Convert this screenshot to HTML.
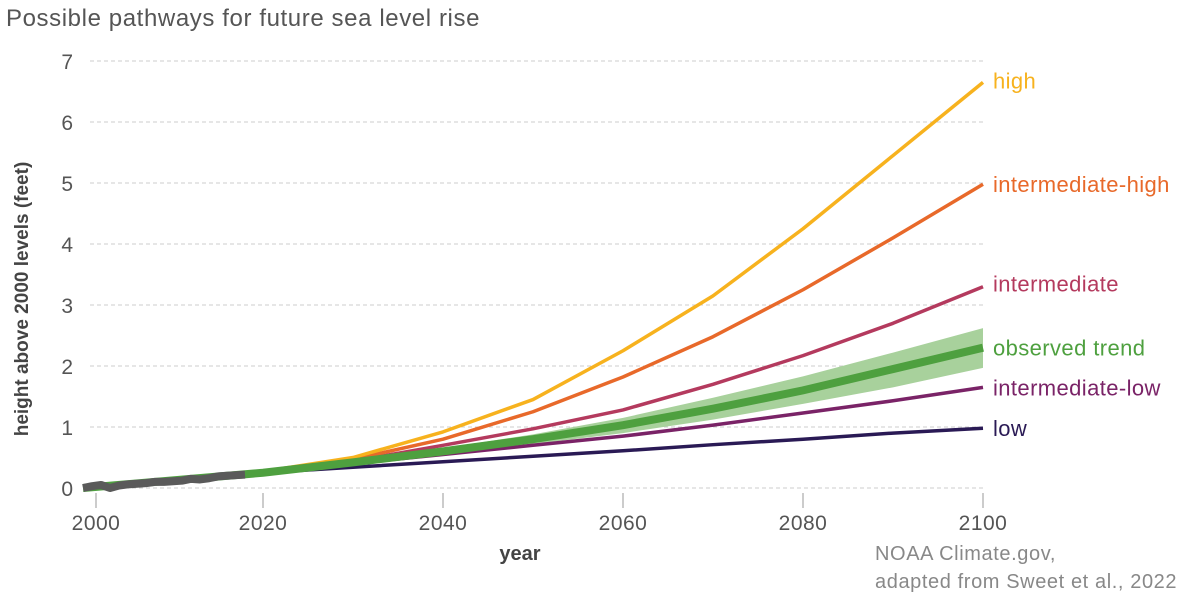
<!DOCTYPE html>
<html><head><meta charset="utf-8"><style>
body{margin:0;background:#fff;font-family:"Liberation Sans","DejaVu Sans",sans-serif}
svg text{font-family:"Liberation Sans","DejaVu Sans",sans-serif}
</style></head><body>
<svg id="c" width="1200" height="600">
<text x="6" y="26" font-size="24" fill="#555" letter-spacing="0.6">Possible pathways for future sea level rise</text>
<g id="grid"></g><g id="marks"></g><g id="labels"></g>
<text x="28" y="299" font-size="19" font-weight="bold" fill="#444" transform="rotate(-90 28 299)" text-anchor="middle">height above 2000 levels (feet)</text>
<text x="520" y="560" font-size="20" font-weight="bold" fill="#444" text-anchor="middle">year</text>
<text x="875" y="560" font-size="20" fill="#888" letter-spacing="0.6">NOAA Climate.gov,</text>
<text x="875" y="588" font-size="20" fill="#888" letter-spacing="0.6">adapted from Sweet et al., 2022</text>
</svg>
<script>
const years=[2020,2030,2040,2050,2060,2070,2080,2090,2100];
const high=[0.27,0.5,0.92,1.45,2.25,3.15,4.25,5.45,6.65];
const intHigh=[0.27,0.47,0.8,1.25,1.82,2.48,3.25,4.1,4.98];
const intermediate=[0.26,0.44,0.7,0.97,1.28,1.7,2.17,2.7,3.3];
const trend=[0.25,0.42,0.6,0.8,1.03,1.3,1.6,1.95,2.3];
const trendLow=[0.25,0.4,0.55,0.72,0.9,1.12,1.38,1.65,1.97];
const trendHigh=[0.25,0.44,0.65,0.88,1.15,1.48,1.83,2.22,2.62];
const intLow=[0.25,0.4,0.55,0.7,0.85,1.03,1.23,1.43,1.65];
const low=[0.25,0.34,0.43,0.52,0.61,0.71,0.8,0.9,0.98];
const obsYears=[2000,2001,2002,2003,2004,2005,2006,2007,2008,2009,2010,2011,2012,2013,2014,2015,2016,2017,2018];
const obs=[0,0.03,0.05,0,0.04,0.06,0.07,0.08,0.1,0.1,0.11,0.12,0.15,0.14,0.16,0.19,0.2,0.21,0.22];
const yTicks=[0,1,2,3,4,5,6,7];
const xTicks=[2000,2020,2040,2060,2080,2100];
const NS="http://www.w3.org/2000/svg";
const X=y=>263+(y-2020)*9.0, Y=v=>488-v*61;
function mk(t,a,p){const e=document.createElementNS(NS,t);for(const k in a)e.setAttribute(k,a[k]);document.getElementById(p).appendChild(e);return e;}
yTicks.forEach(t=>{
 const l=mk('line',{x1:90,x2:985,y1:Y(t),y2:Y(t),stroke:'#ccc','stroke-dasharray':'4,3'},'grid');
 
 
 const tx=mk('text',{x:73,y:Y(t)+8,'font-size':21,fill:'#555','text-anchor':'end'},'grid');tx.textContent=t;
 
 
});
xTicks.forEach(t=>{
 const x=t==2000?96:X(t);
 const l=mk('line',{x1:x,x2:x,y1:493,y2:508,stroke:'#999'},'grid');
 
 
 const tx=mk('text',{x:x,y:530,'font-size':21,fill:'#555','text-anchor':'middle','letter-spacing':'0.5'},'grid');tx.textContent=t;
 
 
});
const pts=(xs,vs)=>xs.map((y,i)=>X(y)+','+Y(vs[i])).join(' ');
const band=mk('polygon',{points:pts(years,trendHigh)+' '+pts(years.slice().reverse(),trendLow.slice().reverse()),fill:'#a8d19c'},'marks');


const series=[[low,'#2a1a55','low-line',3.5],[intLow,'#7a2367','intermediate-low-line',3.5],[intermediate,'#b43a5e','intermediate-line',3.5],[intHigh,'#e8692a','intermediate-high-line',3.5],[high,'#f7b21e','high-line',3.5]];
series.forEach(s=>{
 const p=mk('polyline',{points:pts(years,s[0]),fill:'none',stroke:s[1],'stroke-width':s[3],'stroke-linejoin':'round'},'marks');
 
 
});
const tr=mk('polyline',{points:X(2000)+','+Y(0)+' '+pts(years,trend),fill:'none',stroke:'#4ea03f','stroke-width':8},'marks');


const ob=mk('polyline',{points:pts(obsYears,obs),fill:'none',stroke:'#5a5a5a','stroke-width':8,'stroke-linejoin':'round'},'marks');


const labs=[['high',high,'#f7b21e','high-label',-2],['intermediate-high',intHigh,'#e8692a','intermediate-high-label',0],['intermediate',intermediate,'#b43a5e','intermediate-label',-3],['observed trend',trend,'#4ea03f','observed-trend-label',0],['intermediate-low',intLow,'#7a2367','intermediate-low-label',0],['low',low,'#2a1a55','low-label',0]];
labs.forEach(l=>{
 const t=mk('text',{x:993,y:Y(l[1][8])+8+l[4],'font-size':22,fill:l[2],'letter-spacing':'0.4'},'labels');t.textContent=l[0];
 
 
});
</script>
</body></html>
